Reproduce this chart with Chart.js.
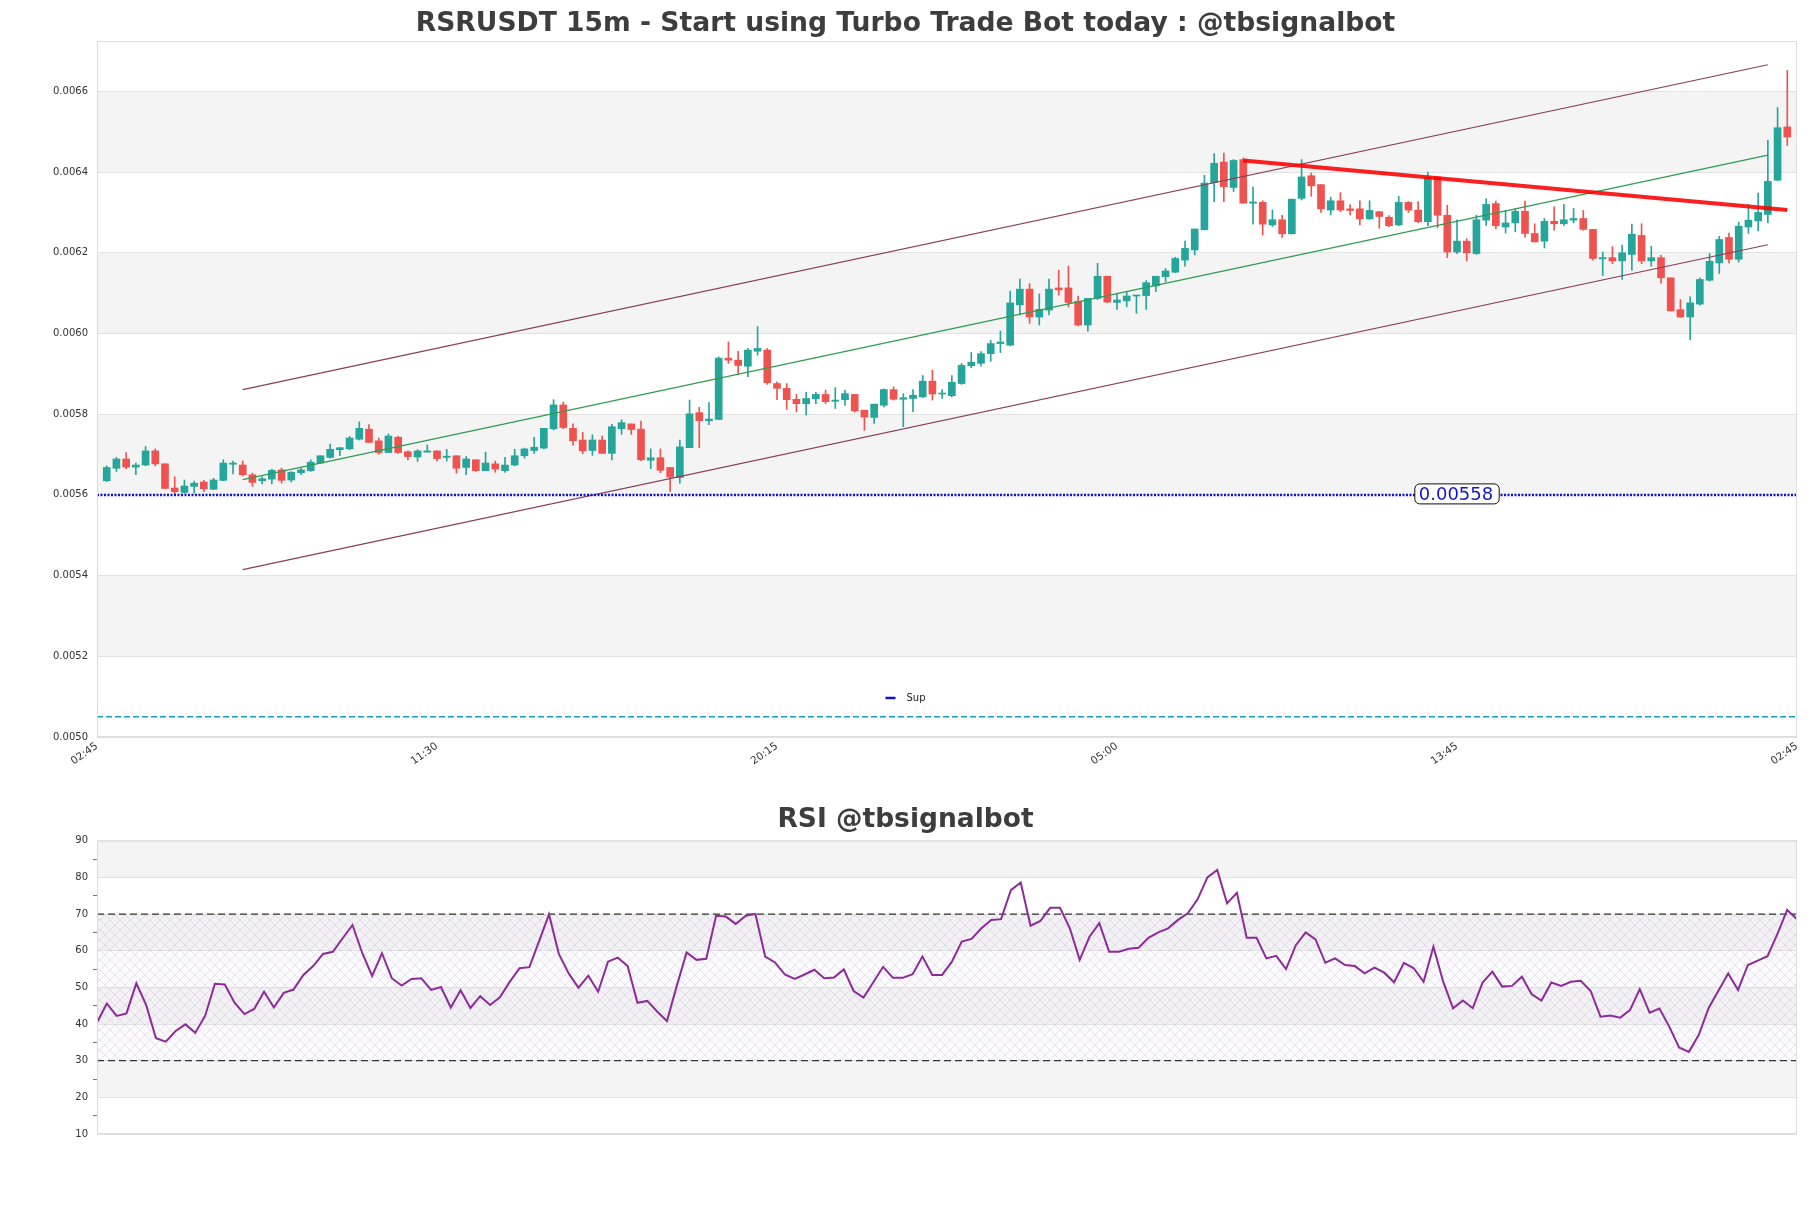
<!DOCTYPE html>
<html>
<head>
<meta charset="utf-8">
<script src="https://cdn.jsdelivr.net/npm/chart.js@4.4.1/dist/chart.umd.min.js"></script>
<style>
  html, body { margin: 0; padding: 0; background: #fff; }
  #wrap { position: relative; width: 1811px; height: 1208px; }
  .box { position: absolute; left: 0; width: 1811px; }
  #priceBox { top: 0; height: 780px; }
  #rsiBox { top: 790px; height: 418px; }
</style>
</head>
<body>
<div id="wrap">
  <div class="box" id="priceBox"><canvas id="priceChart"></canvas></div>
  <div class="box" id="rsiBox"><canvas id="rsiChart"></canvas></div>
</div>
<script>
// 15m candles, index 0..173
const candleOpen = [
  0.005635,0.005666,0.005689,0.005669,0.005674,0.005709,0.005677,0.005617,0.005606,0.005621,
  0.005632,0.005614,0.005636,0.005676,0.005674,0.005650,0.005635,0.005639,0.005662,0.005637,
  0.005655,0.005660,0.005679,0.005693,0.005712,0.005714,0.005738,0.005763,0.005734,0.005705,
  0.005743,0.005707,0.005694,0.005706,0.005709,0.005693,0.005697,0.005668,0.005687,0.005660,
  0.005677,0.005660,0.005674,0.005697,0.005710,0.005716,0.005764,0.005823,0.005765,0.005736,
  0.005710,0.005736,0.005703,0.005764,0.005776,0.005763,0.005686,0.005692,0.005668,0.005643,
  0.005717,0.005804,0.005784,0.005787,0.005939,0.005934,0.005919,0.005956,0.005959,0.005876,
  0.005864,0.005837,0.005826,0.005838,0.005849,0.005832,0.005836,0.005849,0.005810,0.005792,
  0.005822,0.005861,0.005837,0.005839,0.005843,0.005882,0.005850,0.005846,0.005876,0.005920,
  0.005926,0.005950,0.005975,0.005971,0.006071,0.006110,0.006041,0.006058,0.006113,0.006113,
  0.006080,0.006021,0.006087,0.006142,0.006077,0.006081,0.006093,0.006094,0.006118,0.006141,
  0.006152,0.006182,0.006207,0.006257,0.006374,0.006425,0.006362,0.006431,0.006323,0.006325,
  0.006269,0.006282,0.006247,0.006335,0.006391,0.006369,0.006306,0.006329,0.006309,0.006309,
  0.006284,0.006302,0.006288,0.006269,0.006325,0.006306,0.006277,0.006388,0.006293,0.006202,
  0.006229,0.006198,0.006281,0.006322,0.006264,0.006274,0.006303,0.006248,0.006229,0.006278,
  0.006272,0.006281,0.006285,0.006258,0.006185,0.006188,0.006180,0.006196,0.006243,0.006180,
  0.006188,0.006138,0.006059,0.006041,0.006073,0.006132,0.006175,0.006238,0.006184,0.006264,
  0.006279,0.006295,0.006380,0.006512
];
const candleHigh = [
  0.005672,0.005693,0.005705,0.005679,0.005720,0.005714,0.005677,0.005645,0.005637,0.005634,
  0.005636,0.005641,0.005687,0.005684,0.005684,0.005654,0.005645,0.005664,0.005666,0.005658,
  0.005667,0.005687,0.005697,0.005726,0.005717,0.005745,0.005781,0.005774,0.005741,0.005751,
  0.005745,0.005709,0.005712,0.005724,0.005709,0.005713,0.005697,0.005695,0.005687,0.005706,
  0.005684,0.005693,0.005713,0.005716,0.005743,0.005765,0.005836,0.005830,0.005776,0.005755,
  0.005749,0.005746,0.005775,0.005786,0.005776,0.005783,0.005714,0.005714,0.005668,0.005736,
  0.005835,0.005817,0.005829,0.005942,0.005979,0.005956,0.005963,0.006017,0.005963,0.005880,
  0.005876,0.005849,0.005854,0.005854,0.005860,0.005866,0.005860,0.005849,0.005810,0.005825,
  0.005863,0.005868,0.005851,0.005861,0.005896,0.005909,0.005861,0.005896,0.005926,0.005953,
  0.005955,0.005983,0.006006,0.006105,0.006135,0.006124,0.006098,0.006135,0.006157,0.006167,
  0.006093,0.006087,0.006174,0.006142,0.006098,0.006104,0.006095,0.006131,0.006142,0.006161,
  0.006189,0.006229,0.006259,0.006392,0.006446,0.006447,0.006431,0.006435,0.006363,0.006329,
  0.006306,0.006293,0.006333,0.006431,0.006398,0.006369,0.006338,0.006349,0.006319,0.006329,
  0.006329,0.006302,0.006292,0.006340,0.006327,0.006327,0.006400,0.006388,0.006318,0.006282,
  0.006235,0.006293,0.006334,0.006328,0.006305,0.006310,0.006328,0.006272,0.006285,0.006314,
  0.006320,0.006310,0.006305,0.006258,0.006202,0.006215,0.006219,0.006271,0.006272,0.006216,
  0.006194,0.006138,0.006084,0.006091,0.006138,0.006198,0.006241,0.006249,0.006276,0.006320,
  0.006348,0.006479,0.006560,0.006652
];
const candleLow = [
  0.005633,0.005658,0.005665,0.005650,0.005672,0.005672,0.005616,0.005600,0.005604,0.005604,
  0.005608,0.005613,0.005635,0.005652,0.005647,0.005621,0.005627,0.005627,0.005629,0.005632,
  0.005650,0.005658,0.005679,0.005691,0.005697,0.005712,0.005736,0.005730,0.005701,0.005705,
  0.005703,0.005687,0.005683,0.005706,0.005684,0.005684,0.005654,0.005650,0.005658,0.005660,
  0.005656,0.005656,0.005672,0.005691,0.005703,0.005714,0.005761,0.005764,0.005723,0.005702,
  0.005698,0.005703,0.005687,0.005750,0.005750,0.005685,0.005665,0.005655,0.005608,0.005629,
  0.005717,0.005717,0.005774,0.005787,0.005926,0.005899,0.005893,0.005946,0.005874,0.005836,
  0.005812,0.005806,0.005798,0.005826,0.005826,0.005814,0.005822,0.005805,0.005760,0.005777,
  0.005818,0.005835,0.005769,0.005806,0.005841,0.005835,0.005839,0.005843,0.005874,0.005915,
  0.005919,0.005931,0.005953,0.005969,0.006046,0.006025,0.006021,0.006046,0.006095,0.006066,
  0.006019,0.006006,0.006084,0.006076,0.006060,0.006066,0.006050,0.006060,0.006104,0.006128,
  0.006151,0.006167,0.006195,0.006257,0.006327,0.006327,0.006352,0.006323,0.006271,0.006244,
  0.006265,0.006238,0.006247,0.006331,0.006340,0.006300,0.006294,0.006302,0.006294,0.006269,
  0.006283,0.006261,0.006265,0.006267,0.006300,0.006275,0.006267,0.006262,0.006188,0.006198,
  0.006180,0.006196,0.006268,0.006260,0.006249,0.006252,0.006239,0.006227,0.006212,0.006256,
  0.006268,0.006274,0.006256,0.006182,0.006144,0.006173,0.006134,0.006157,0.006173,0.006167,
  0.006125,0.006056,0.006040,0.005985,0.006070,0.006130,0.006149,0.006175,0.006177,0.006248,
  0.006254,0.006274,0.006378,0.006466
];
const candleClose = [
  0.005668,0.005689,0.005669,0.005674,0.005709,0.005677,0.005616,0.005608,0.005622,0.005629,
  0.005615,0.005637,0.005679,0.005679,0.005650,0.005631,0.005640,0.005661,0.005636,0.005656,
  0.005662,0.005681,0.005697,0.005713,0.005717,0.005741,0.005765,0.005730,0.005705,0.005746,
  0.005705,0.005695,0.005709,0.005709,0.005690,0.005696,0.005666,0.005689,0.005660,0.005679,
  0.005664,0.005674,0.005697,0.005714,0.005718,0.005765,0.005823,0.005767,0.005734,0.005709,
  0.005736,0.005703,0.005769,0.005779,0.005762,0.005687,0.005692,0.005661,0.005644,0.005719,
  0.005801,0.005784,0.005788,0.005939,0.005934,0.005921,0.005959,0.005963,0.005878,0.005864,
  0.005836,0.005826,0.005839,0.005849,0.005831,0.005835,0.005851,0.005808,0.005793,0.005825,
  0.005861,0.005837,0.005841,0.005847,0.005882,0.005850,0.005851,0.005879,0.005921,0.005929,
  0.005950,0.005975,0.005979,0.006076,0.006110,0.006041,0.006060,0.006110,0.006108,0.006077,
  0.006021,0.006087,0.006142,0.006078,0.006083,0.006093,0.006095,0.006126,0.006142,0.006155,
  0.006186,0.006211,0.006259,0.006373,0.006422,0.006364,0.006429,0.006323,0.006326,0.006271,
  0.006282,0.006247,0.006333,0.006388,0.006366,0.006309,0.006329,0.006306,0.006305,0.006284,
  0.006305,0.006290,0.006267,0.006325,0.006306,0.006277,0.006387,0.006293,0.006202,0.006229,
  0.006200,0.006282,0.006320,0.006267,0.006274,0.006303,0.006248,0.006227,0.006278,0.006272,
  0.006282,0.006285,0.006258,0.006186,0.006188,0.006180,0.006200,0.006246,0.006180,0.006188,
  0.006138,0.006056,0.006041,0.006076,0.006134,0.006179,0.006233,0.006184,0.006266,0.006281,
  0.006300,0.006377,0.006510,0.006487
];

const rsiValues = [
  40.4,45.6,42.2,42.9,51.1,45.2,36.1,35.2,38.1,39.9,37.6,42.2,51.0,50.8,45.8,42.7,44.1,48.8,44.5,48.5,
  49.4,53.4,55.8,59.1,59.7,63.4,67.0,59.3,53.1,59.3,52.5,50.5,52.3,52.5,49.3,50.1,44.5,49.2,44.4,47.6,
  45.2,47.3,51.5,55.2,55.5,62.7,69.9,59.1,53.8,49.9,53.2,48.8,57.0,58.1,55.8,45.8,46.3,43.4,40.8,50.4,
  59.5,57.5,57.8,69.5,69.3,67.3,69.5,70.0,58.4,56.8,53.5,52.3,53.5,54.8,52.5,52.7,54.9,49.0,47.2,51.4,
  55.6,52.6,52.6,53.6,58.4,53.4,53.4,57.0,62.5,63.2,66.1,68.4,68.6,76.5,78.6,66.8,68.1,71.7,71.7,66.1,
  57.5,63.8,67.5,59.7,59.7,60.5,60.8,63.5,65.0,66.1,68.4,70.2,74.0,80.0,82.0,72.9,75.8,63.5,63.5,57.9,
  58.6,55.0,61.5,65.0,63.1,56.7,57.9,56.1,55.8,53.8,55.4,54.0,51.4,56.7,55.2,51.5,61.1,51.5,44.3,46.4,
  44.3,51.3,54.3,50.2,50.4,52.9,48.1,46.4,51.3,50.4,51.5,51.8,49.0,42.0,42.3,41.7,43.8,49.5,43.1,44.2,
  39.3,33.6,32.4,37.0,44.3,49.1,53.8,49.3,56.1,57.3,58.5,64.5,71.1,68.6
];

// overlays
const channelX = [14, 171];
const upperChannel = [0.005861, 0.006666];
const midChannel = [0.005638, 0.006442];
const lowerChannel = [0.005415, 0.006220];
const trendX = [117, 173];
const trendY = [0.006429, 0.006306];
const supportLevel = 0.0056;
const supportLabel = '0.00558';
const supportLabelX = 139;
const lowLevel = 0.00505;
const rsiUpper = 70;
const rsiLower = 30;

// axes
const xTickPos = [-1, 34, 69, 104, 139, 174];
const xTickLabels = ['02:45', '11:30', '20:15', '05:00', '13:45', '02:45'];
const priceTicks = [0.0050, 0.0052, 0.0054, 0.0056, 0.0058, 0.0060, 0.0062, 0.0064, 0.0066];
const priceBands = [[0.0052, 0.0054], [0.0056, 0.0058], [0.0060, 0.0062], [0.0064, 0.0066]];
const rsiBands = [[20, 30], [40, 50], [60, 70], [80, 90]];

Chart.defaults.font.family = "'DejaVu Sans', sans-serif";
Chart.defaults.color = '#333';

const upColor = '#26a69a';
const downColor = '#ef5350';
const candleColors = candleOpen.map((o, i) => candleClose[i] >= o ? upColor : downColor);
const idx = candleOpen.map((_, i) => i);

function seg(xs, ys) {
  return [{ x: xs[0], y: ys[0] }, { x: xs[1], y: ys[1] }];
}

// gray bands + plot frame
const bandsPlugin = {
  id: 'bands',
  beforeDraw(chart, args, opts) {
    const { ctx, chartArea: a, scales: { y } } = chart;
    ctx.save();
    ctx.fillStyle = '#f4f4f4';
    opts.ranges.forEach(r => {
      const y1 = y.getPixelForValue(r[1]), y0 = y.getPixelForValue(r[0]);
      ctx.fillRect(a.left, y1, a.right - a.left, y0 - y1);
    });
    ctx.restore();
  },
  afterDraw(chart) {
    const { ctx, chartArea: a } = chart;
    ctx.save();
    ctx.strokeStyle = '#dcdcdc';
    ctx.lineWidth = 1;
    ctx.strokeRect(a.left + 0.5, a.top + 0.5, a.right - a.left - 1, a.bottom - a.top - 1);
    ctx.restore();
  }
};

// support label box + small legend
const notesPlugin = {
  id: 'notes',
  afterDraw(chart) {
    const { ctx, chartArea: a, scales: { x, y } } = chart;
    ctx.save();
    ctx.font = '18px "DejaVu Sans"';
    const tw = ctx.measureText(supportLabel).width;
    const cx = x.getPixelForValue(supportLabelX);
    const cy = y.getPixelForValue(supportLevel);
    const w = tw + 10, h = 20;
    ctx.beginPath();
    ctx.roundRect(cx - w / 2, cy - h / 2 - 1, w, h, 5);
    ctx.fillStyle = '#fff';
    ctx.fill();
    ctx.strokeStyle = '#111';
    ctx.lineWidth = 1;
    ctx.stroke();
    ctx.fillStyle = '#1515c8';
    ctx.textAlign = 'center';
    ctx.textBaseline = 'middle';
    ctx.fillText(supportLabel, cx - 1, cy);

    const lx = chart.width / 2, ly = a.bottom - 39;
    ctx.strokeStyle = '#1515c8';
    ctx.lineWidth = 2.5;
    ctx.beginPath();
    ctx.moveTo(lx - 20, ly);
    ctx.lineTo(lx - 10, ly);
    ctx.stroke();
    ctx.font = '10px "DejaVu Sans"';
    ctx.fillStyle = '#222';
    ctx.textAlign = 'left';
    ctx.fillText('Sup', lx + 1, ly);
    ctx.restore();
  }
};

new Chart(document.getElementById('priceChart'), {
  type: 'bar',
  data: {
    datasets: [
      { type: 'line', data: seg(trendX, trendY), borderColor: 'rgba(250,0,0,0.88)', borderWidth: 4, pointRadius: 0, order: 0 },
      { type: 'line', data: seg([-1, 174], [supportLevel, supportLevel]), borderColor: '#1010d8', borderWidth: 2.5, borderDash: [2, 1.5], pointRadius: 0, order: 0 },
      { type: 'line', data: seg([-1, 174], [lowLevel, lowLevel]), borderColor: '#1a9bbd', borderWidth: 1.5, borderDash: [6, 3], pointRadius: 0, order: 0 },
      { type: 'line', data: seg(channelX, upperChannel), borderColor: '#8a3d5a', borderWidth: 1.2, pointRadius: 0, order: 0 },
      { type: 'line', data: seg(channelX, lowerChannel), borderColor: '#8a3d5a', borderWidth: 1.2, pointRadius: 0, order: 0 },
      { type: 'line', data: seg(channelX, midChannel), borderColor: '#2e9d50', borderWidth: 1.2, pointRadius: 0, order: 0 },
      {
        label: 'body',
        data: idx.map(i => ({ x: i, y: [candleOpen[i], candleClose[i]] })),
        backgroundColor: candleColors, barThickness: 7, minBarLength: 1, grouped: false, order: 1
      },
      {
        label: 'wick',
        data: idx.map(i => ({ x: i, y: [candleLow[i], candleHigh[i]] })),
        backgroundColor: candleColors, barThickness: 1, grouped: false, order: 2
      }
    ]
  },
  options: {
    responsive: true,
    maintainAspectRatio: false,
    animation: false,
    devicePixelRatio: 1,
    events: [],
    layout: { padding: { left: 14, right: 14, top: 0, bottom: 0 } },
    plugins: {
      legend: { display: false },
      tooltip: { enabled: false },
      title: {
        display: true,
        text: 'RSRUSDT 15m - Start using Turbo Trade Bot today : @tbsignalbot',
        color: '#3d3d3d',
        font: { size: 26.6, weight: 'bold' },
        padding: { top: 8, bottom: 1.1 }
      },
      bands: { ranges: priceBands }
    },
    scales: {
      x: {
        type: 'linear',
        min: -1,
        max: 174,
        offset: false,
        grid: { display: false, drawTicks: false },
        border: { display: false },
        afterBuildTicks: axis => { axis.ticks = xTickPos.map(v => ({ value: v })); },
        afterFit: scale => { scale.height = 43; },
        ticks: {
          autoSkip: false,
          minRotation: 35,
          maxRotation: 35,
          padding: 3,
          font: { size: 10.5 },
          color: '#333',
          callback: (v, i) => xTickLabels[i]
        }
      },
      y: {
        min: 0.0050,
        max: 0.0067249,
        grid: { color: '#e2e2e2', drawTicks: false },
        border: { display: false },
        afterBuildTicks: axis => { axis.ticks = priceTicks.map(v => ({ value: v })); },
        afterFit: scale => { scale.width = 83; },
        ticks: {
          padding: 9,
          font: { size: 10 },
          color: '#333',
          callback: v => v.toFixed(4)
        }
      }
    }
  },
  plugins: [bandsPlugin, notesPlugin]
});

function makeHatch() {
  const c = document.createElement('canvas');
  c.width = 10; c.height = 10;
  const g = c.getContext('2d');
  g.fillStyle = 'rgba(230,215,238,0.10)';
  g.fillRect(0, 0, 10, 10);
  g.strokeStyle = 'rgba(190,178,205,0.35)';
  g.lineWidth = 1;
  g.beginPath();
  g.moveTo(0, 0); g.lineTo(10, 10);
  g.moveTo(10, 0); g.lineTo(0, 10);
  g.stroke();
  return g.createPattern(c, 'repeat');
}

const rsiLast = rsiValues.length - 1;

new Chart(document.getElementById('rsiChart'), {
  type: 'line',
  data: {
    datasets: [
      { data: rsiValues.map((v, i) => ({ x: i, y: v })), borderColor: '#8e2a9a', borderWidth: 2, pointRadius: 0, tension: 0, order: 0 },
      { data: seg([0, rsiLast], [rsiUpper, rsiUpper]), borderColor: '#333', borderWidth: 1.2, borderDash: [7, 4], pointRadius: 0, order: 1 },
      { data: seg([0, rsiLast], [rsiLower, rsiLower]), borderColor: '#333', borderWidth: 1.2, borderDash: [7, 4], pointRadius: 0, order: 1 },
      { data: seg([0, rsiLast], [rsiUpper, rsiUpper]), borderWidth: 0, pointRadius: 0, fill: { value: rsiLower }, backgroundColor: makeHatch(), order: 3 }
    ]
  },
  options: {
    responsive: true,
    maintainAspectRatio: false,
    animation: false,
    devicePixelRatio: 1,
    events: [],
    layout: { padding: { left: 14, right: 14, top: 0, bottom: 74 } },
    plugins: {
      legend: { display: false },
      tooltip: { enabled: false },
      title: {
        display: true,
        text: 'RSI @tbsignalbot',
        color: '#3d3d3d',
        font: { size: 26.5, weight: 'bold' },
        padding: { top: 14.2, bottom: 4.7 }
      },
      bands: { ranges: rsiBands }
    },
    scales: {
      x: { type: 'linear', min: 0, max: rsiLast, display: false },
      y: {
        min: 10,
        max: 90,
        border: { display: false },
        afterFit: scale => { scale.width = 83; },
        grid: {
          color: c => c.tick.value % 10 === 0 ? '#e2e2e2' : 'rgba(0,0,0,0)',
          tickColor: c => c.tick.value % 10 === 0 ? 'rgba(0,0,0,0)' : '#777',
          tickLength: 4
        },
        ticks: {
          stepSize: 5,
          padding: 5,
          font: { size: 10 },
          color: '#333',
          callback: v => v % 10 === 0 ? v : ''
        }
      }
    }
  },
  plugins: [bandsPlugin]
});
</script>
</body>
</html>
